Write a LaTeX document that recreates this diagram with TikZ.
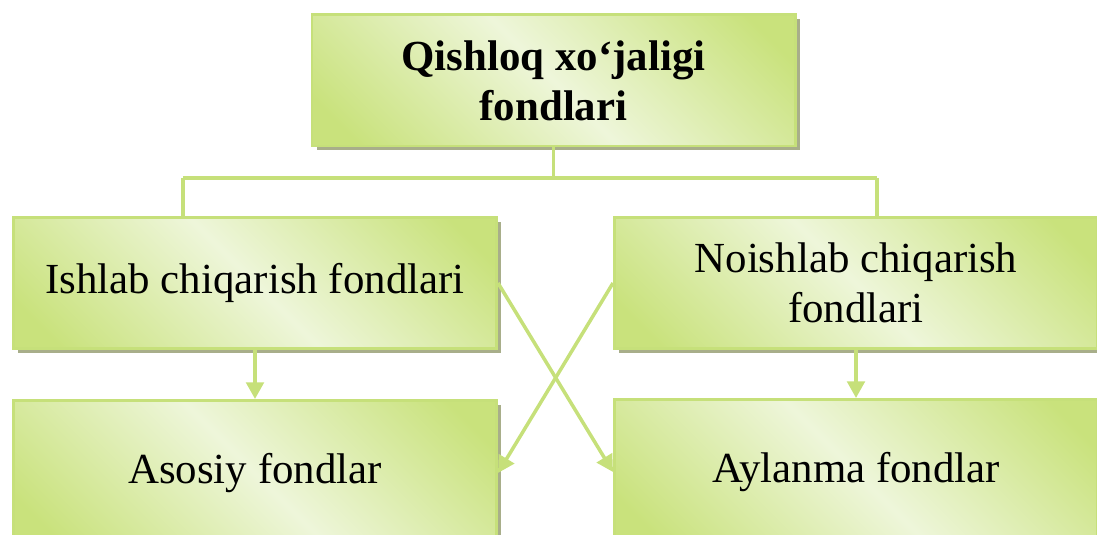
\documentclass[tikz,border=0pt]{standalone}
\usepackage{fontspec}
\setmainfont{Liberation Serif}
\usetikzlibrary{arrows.meta, shadows}

\definecolor{fondline}{HTML}{C6E07A}
\definecolor{fonddark}{HTML}{C9E27C}
\definecolor{fondlight}{HTML}{EEF6DA}
\definecolor{fondshadow}{HTML}{A8AE8A}
\pgfdeclarehorizontalshading{fondshade}{100bp}{color(0bp)=(fonddark); color(20bp)=(fonddark); color(50bp)=(fondlight); color(80bp)=(fonddark); color(100bp)=(fonddark)}

\begin{document}
\begin{tikzpicture}[>={Triangle[length=9.5pt,width=10pt]},
    fond/.style={rectangle, draw=fondline, line width=1.7pt, shading=fondshade, shading angle=45,
        minimum width=9.66cm, minimum height=2.62cm, align=center,
        font=\fontsize{24.4}{28.5}\selectfont,
        general shadow={fill=fondshadow, shadow xshift=0.09cm, shadow yshift=-0.09cm}},
    link/.style={draw=fondline, line width=2pt}]
    \useasboundingbox[clip] (0,0) rectangle (21.94,10.68);
    \node[fond] (qx) at (11.07,9.07) {\textbf{Qishloq xo‘jaligi}\\\textbf{fondlari}};
    \node[fond] (ishlab) at (5.1,5.02) {Ishlab chiqarish fondlari};
    \node[fond] (noishlab) at (17.12,5.02) {Noishlab chiqarish\\fondlari};
    % bottom row runs past the lower edge
    \node[fond, minimum height=2.9cm] (asosiy) at (5.1,1.22) {Asosiy fondlar};
    \node[fond, minimum height=2.9cm] (aylanma) at (17.12,1.24) {Aylanma fondlar};
    \coordinate (hl) at (3.66,7.12);
    \coordinate (hr) at (17.54,7.12);
    \path[link] (qx.south) -- (qx.south |- hl);
    \path[link] (hl) -- (hr);
    \path[link] (hl) -- (hl |- ishlab.north);
    \path[link] (hr) -- (hr |- noishlab.north);
    \path[link, ->] (ishlab) -- (asosiy);
    \path[link, ->] (noishlab) -- (aylanma);
    \path[link, ->] (ishlab.east) -- (aylanma.west);
    \path[link, ->] (noishlab.west) -- (asosiy.east);
\end{tikzpicture}
\end{document}
